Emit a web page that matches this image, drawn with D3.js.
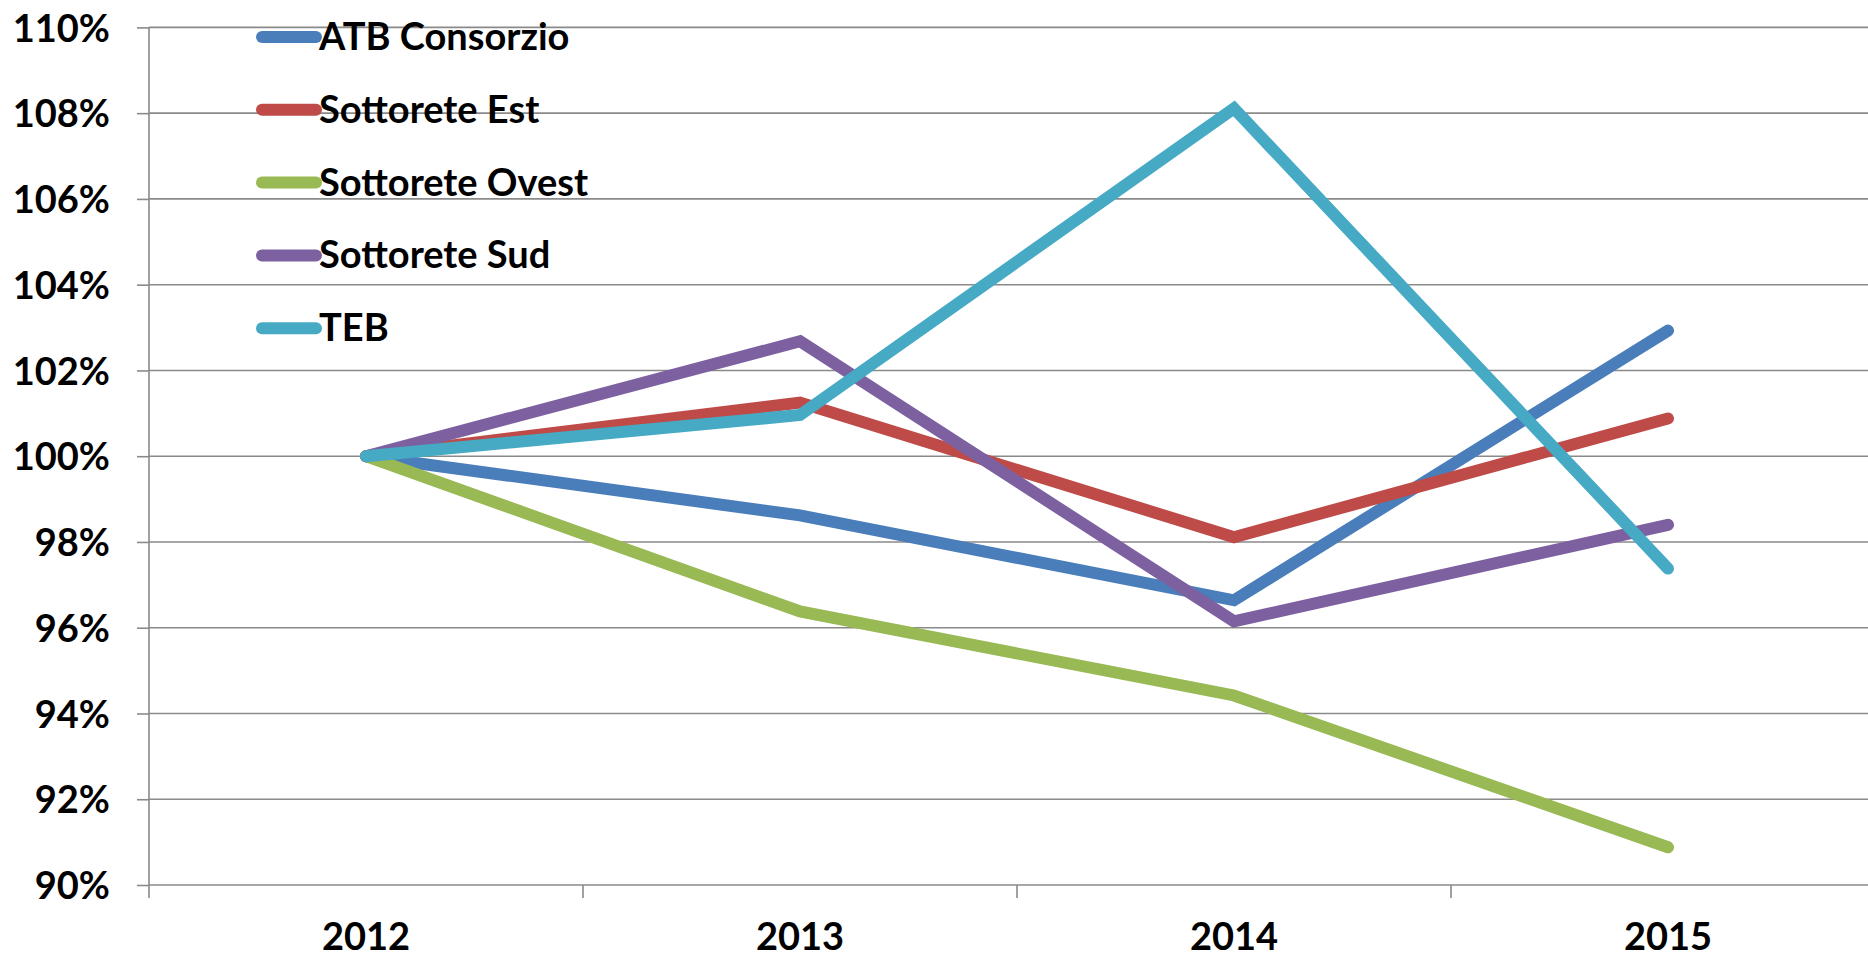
<!DOCTYPE html>
<html>
<head>
<meta charset="utf-8">
<script src="https://cdn.jsdelivr.net/npm/d3@7/dist/d3.min.js"></script>
<style>
  html, body { margin: 0; padding: 0; background: #fff; }
  svg { display: block; }
  .lbl { font-family: Lato, "Open Sans", "Liberation Sans", sans-serif; font-weight: bold; fill: #000; }
</style>
</head>
<body>
<script>
//-----------------------------------------------------------------------------------
// data (index, 2012 = 100%)
//-----------------------------------------------------------------------------------
var years = ["2012", "2013", "2014", "2015"];
var seriesNames = ["ATB Consorzio", "Sottorete Est", "Sottorete Ovest", "Sottorete Sud", "TEB"];
var seriesColors = ["#4a7ebb", "#be4b48", "#98b954", "#7d60a0", "#46aac5"];

var atbConsorzio   = [100, 98.62, 96.64, 102.93];
var sottoreteEst   = [100, 101.25, 98.11, 100.88];
var sottoreteOvest = [100, 96.38, 94.42, 90.88];
var sottoreteSud   = [100, 102.68, 96.15, 98.40];
var teb            = [100, 100.96, 108.11, 97.38];

var yTicks = [90, 92, 94, 96, 98, 100, 102, 104, 106, 108, 110];

var seriesValues = [atbConsorzio, sottoreteEst, sottoreteOvest, sottoreteSud, teb];

//-----------------------------------------------------------------------------------
// layout
//-----------------------------------------------------------------------------------
var chartW = 1868, chartH = 957;
var plotLeft = 149, bandW = 434, plotTop = 27.4, plotBottom = 885;

var svg = d3.select("body").append("svg")
            .attr("width", chartW)
            .attr("height", chartH);

var x = d3.scaleBand()
          .domain(years)
          .range([plotLeft, plotLeft + bandW * years.length])
          .padding(0);

var y = d3.scaleLinear()
          .domain([90, 110])
          .range([plotBottom, plotTop]);

//gridlines
svg.append("g").selectAll("line")
   .data(yTicks)
   .join("line")
   .attr("x1", plotLeft)
   .attr("x2", chartW)
   .attr("y1", function(d){ return y(d); })
   .attr("y2", function(d){ return y(d); })
   .attr("stroke", "#8a8a8a")
   .attr("stroke-width", 1.6);

//y axis with tick labels
var yAxis = svg.append("g")
               .attr("transform", "translate(" + plotLeft + ",0)")
               .call(d3.axisLeft(y)
                       .tickValues(yTicks)
                       .tickFormat(function(d){ return d + "%"; })
                       .tickSize(12)
                       .tickPadding(27));
yAxis.select(".domain").remove();
yAxis.selectAll(".tick line").attr("stroke", "#8a8a8a").attr("stroke-width", 1.6);
yAxis.selectAll("text")
     .attr("class", "lbl")
     .style("font-size", "38px")
     .attr("dy", "0.36em");

svg.append("line")
   .attr("x1", plotLeft).attr("x2", plotLeft)
   .attr("y1", plotTop).attr("y2", plotBottom + 13)
   .attr("stroke", "#8a8a8a")
   .attr("stroke-width", 1.6);

//x axis: ticks at band edges, labels at band centres
var xAxis = svg.append("g")
               .attr("transform", "translate(0," + plotBottom + ")")
               .call(d3.axisBottom(x).tickSize(0).tickPadding(0));
xAxis.select(".domain").remove();
xAxis.selectAll("text")
     .attr("class", "lbl")
     .style("font-size", "38px")
     .attr("y", 65)
     .attr("dy", "0");

svg.append("g").selectAll("line")
   .data(years.slice(1))
   .join("line")
   .attr("x1", function(d){ return x(d); })
   .attr("x2", function(d){ return x(d); })
   .attr("y1", plotBottom)
   .attr("y2", plotBottom + 13)
   .attr("stroke", "#8a8a8a")
   .attr("stroke-width", 1.6);

//-----------------------------------------------------------------------------------
// series lines
//-----------------------------------------------------------------------------------
var line = d3.line()
             .x(function(d, i){ return x(years[i]) + x.bandwidth() / 2; })
             .y(function(d){ return y(d); });

svg.append("g").selectAll("path")
   .data(seriesValues)
   .join("path")
   .attr("d", line)
   .attr("fill", "none")
   .attr("stroke", function(d, i){ return seriesColors[i]; })
   .attr("stroke-width", 12)
   .attr("stroke-linecap", "round")
   .attr("stroke-linejoin", "miter");

//-----------------------------------------------------------------------------------
// legend (top left, inside the plot)
//-----------------------------------------------------------------------------------
var legend = svg.append("g").selectAll("g")
                .data(seriesNames)
                .join("g")
                .attr("transform", function(d, i){ return "translate(262," + (37 + i * 72.8) + ")"; });

legend.append("line")
      .attr("x1", 0).attr("x2", 54)
      .attr("y1", 0).attr("y2", 0)
      .attr("stroke", function(d, i){ return seriesColors[i]; })
      .attr("stroke-width", 12)
      .attr("stroke-linecap", "round");

legend.append("text")
      .attr("class", "lbl")
      .attr("x", 57)
      .attr("y", 13)
      .style("font-size", "38px")
      .text(function(d){ return d; });
</script>
</body>
</html>
